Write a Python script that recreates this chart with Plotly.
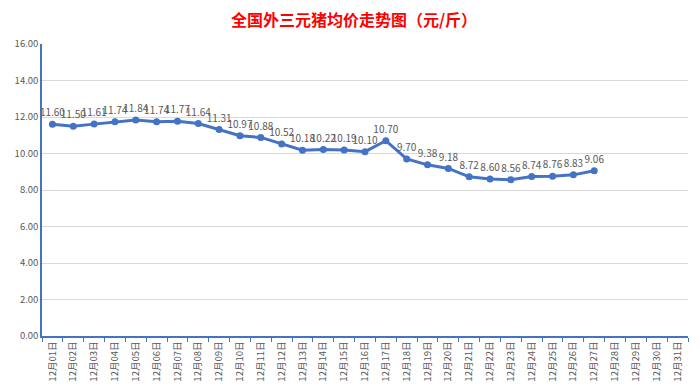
import plotly.graph_objects as go

categories = [f"12月{d:02d}日" for d in range(1, 32)]
prices = [11.60, 11.50, 11.61, 11.74, 11.84, 11.74, 11.77, 11.64, 11.31, 10.97,
          10.88, 10.52, 10.18, 10.22, 10.19, 10.10, 10.70, 9.70, 9.38, 9.18,
          8.72, 8.60, 8.56, 8.74, 8.76, 8.83, 9.06]
title_text = "<b>全国外三元猪均价走势图（元/斤）</b>"

line_color = "#4472C4"
font_fam = "Noto Sans CJK SC, Noto Sans, sans-serif"

fig = go.Figure()
fig.add_trace(go.Scatter(
    x=categories[:len(prices)], y=prices,
    mode="lines+markers+text",
    line=dict(color=line_color, width=3),
    marker=dict(color=line_color, size=7),
    text=[f"{v:.2f}" for v in prices],
    textposition="top center",
    textfont=dict(size=10, color="#595959", family=font_fam),
    cliponaxis=False,
    showlegend=False,
))

# page body has an 8px default margin, so the figure is sized to fill the rest
fig.update_layout(
    width=692, height=384,
    margin=dict(l=34, r=12, t=36, b=56),
    paper_bgcolor="white", plot_bgcolor="white",
    title=dict(text=title_text, x=0.5, xanchor="center", y=0.969, yanchor="middle",
               font=dict(size=16, color="#FF0000", family=font_fam)),
    font=dict(family=font_fam, color="#595959"),
)
fig.update_xaxes(
    type="category", categoryorder="array", categoryarray=categories,
    range=[-0.5, len(categories) - 0.5], automargin=False,
    showline=True, linecolor=line_color, linewidth=1.5,
    ticks="outside", tickson="boundaries", tickcolor=line_color, ticklen=4,
    tickangle=-90, tickfont=dict(size=9.5, color="#595959"),
    showgrid=False,
)
fig.update_yaxes(
    range=[0, 16], dtick=2, tickformat=".2f", automargin=False,
    showline=True, linecolor=line_color, linewidth=1.5,
    showgrid=True, gridcolor="#D9D9D9", gridwidth=1,
    tickfont=dict(size=9.5, color="#595959"),
    zeroline=False,
)

fig.write_html("out.html")
